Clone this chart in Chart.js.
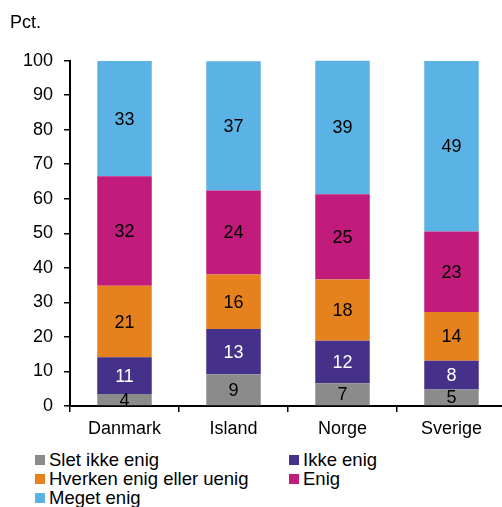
<!DOCTYPE html>
<html>
<head>
<meta charset="utf-8">
<script src="https://cdn.jsdelivr.net/npm/chart.js@4/dist/chart.umd.min.js"></script>
<style>
  html, body { margin: 0; padding: 0; background: #fff; overflow: hidden; }
  #wrap { position: relative; width: 502px; height: 507px; overflow: hidden; }
  #canvas1 { position: absolute; left: 0; top: 0; }
  #legende {
    position: absolute; left: 35px; top: 450px;
    display: grid; grid-template-columns: 254px 200px;
    font: 18.5px "Liberation Sans", Arial, sans-serif; color: #000;
  }
  .item { height: 19px; line-height: 19px; display: flex; align-items: center; white-space: nowrap; }
  .boks { width: 10px; height: 10px; margin-right: 4px; flex: none; }
</style>
</head>
<body>
<div id="wrap">
  <canvas id="canvas1"></canvas>
  <div id="legende"></div>
</div>
<script>
// data (pct.)
var lande = ["Danmark", "Island", "Norge", "Sverige"];
var sletIkkeEnig = [3.5, 9.2, 6.6, 4.8];
var ikkeEnig = [10.6, 13.1, 12.3, 8.3];
var hverken = [20.7, 15.8, 17.7, 14.1];
var enig = [31.7, 24.3, 24.7, 23.3];
var megetEnig = [33.4, 37.4, 38.7, 49.4];
var yTicks = [0, 10, 20, 30, 40, 50, 60, 70, 80, 90, 100];

var serier = [
  { label: "Slet ikke enig", data: sletIkkeEnig, farve: "#8b8b8b", tekst: "#000" },
  { label: "Ikke enig", data: ikkeEnig, farve: "#46318a", tekst: "#fff" },
  { label: "Hverken enig eller uenig", data: hverken, farve: "#e6821e", tekst: "#000" },
  { label: "Enig", data: enig, farve: "#c11b7b", tekst: "#000" },
  { label: "Meget enig", data: megetEnig, farve: "#5bb3e5", tekst: "#000" }
];

var font = "'Liberation Sans', Arial, sans-serif";
Chart.defaults.font.family = font;
Chart.defaults.font.size = 18;
Chart.defaults.color = "#000";

var canvas = document.getElementById('canvas1');
canvas.width = 506;
canvas.height = 446;
canvas.style.width = '506px';
canvas.style.height = '446px';

// tal i søjlerne
var talPlugin = {
  id: 'tal',
  afterDatasetsDraw: function(chart) {
    var ctx = chart.ctx;
    ctx.save();
    ctx.font = "18px " + font;
    ctx.textAlign = 'center';
    ctx.textBaseline = 'middle';
    chart.data.datasets.forEach(function(ds, i) {
      var meta = chart.getDatasetMeta(i);
      meta.data.forEach(function(bar, j) {
        var p = bar.getProps(['x', 'y', 'base'], true);
        ctx.fillStyle = serier[i].tekst;
        ctx.fillText(Math.round(ds.data[j]), p.x, (p.y + p.base) / 2 + 1);
      });
    });
    ctx.restore();
  }
};

var MyChart = new Chart(canvas.getContext('2d'), {
  type: 'bar',
  data: {
    labels: lande,
    datasets: serier.map(function(s) {
      return {
        label: s.label,
        data: s.data,
        backgroundColor: s.farve,
        borderWidth: 0,
        barPercentage: 0.5,
        categoryPercentage: 1
      };
    })
  },
  options: {
    responsive: false,
    animation: false,
    layout: { padding: { left: 10, right: 0, top: 0, bottom: 0 } },
    plugins: {
      legend: { display: false },
      tooltip: { enabled: false },
      title: {
        display: true,
        text: 'Pct.',
        align: 'start',
        color: '#000',
        font: { size: 18, weight: 'normal' },
        padding: { top: 12, bottom: 27 }
      }
    },
    scales: {
      x: {
        stacked: true,
        grid: { drawOnChartArea: false, drawTicks: true, tickLength: 6, color: '#000', lineWidth: 1.5 },
        border: { display: true, color: '#000', width: 2 },
        ticks: { padding: 6, font: { size: 18 } },
        afterFit: function(s) { s.height = 40; }
      },
      y: {
        stacked: true,
        min: 0,
        max: 100,
        afterBuildTicks: function(s) { s.ticks = yTicks.map(function(v) { return { value: v }; }); },
        grid: { drawOnChartArea: false, drawTicks: true, tickLength: 6, color: '#000', lineWidth: 1.5 },
        border: { display: true, color: '#000', width: 2 },
        ticks: { padding: 11, font: { size: 18 } },
        afterFit: function(s) { s.width = 60; }
      }
    }
  },
  plugins: [talPlugin]
});

// legende i to kolonner
var leg = document.getElementById('legende');
serier.forEach(function(s) {
  var d = document.createElement('div');
  d.className = 'item';
  d.innerHTML = '<span class="boks" style="background:' + s.farve + '"></span>' + s.label;
  leg.appendChild(d);
});
</script>
</body>
</html>
